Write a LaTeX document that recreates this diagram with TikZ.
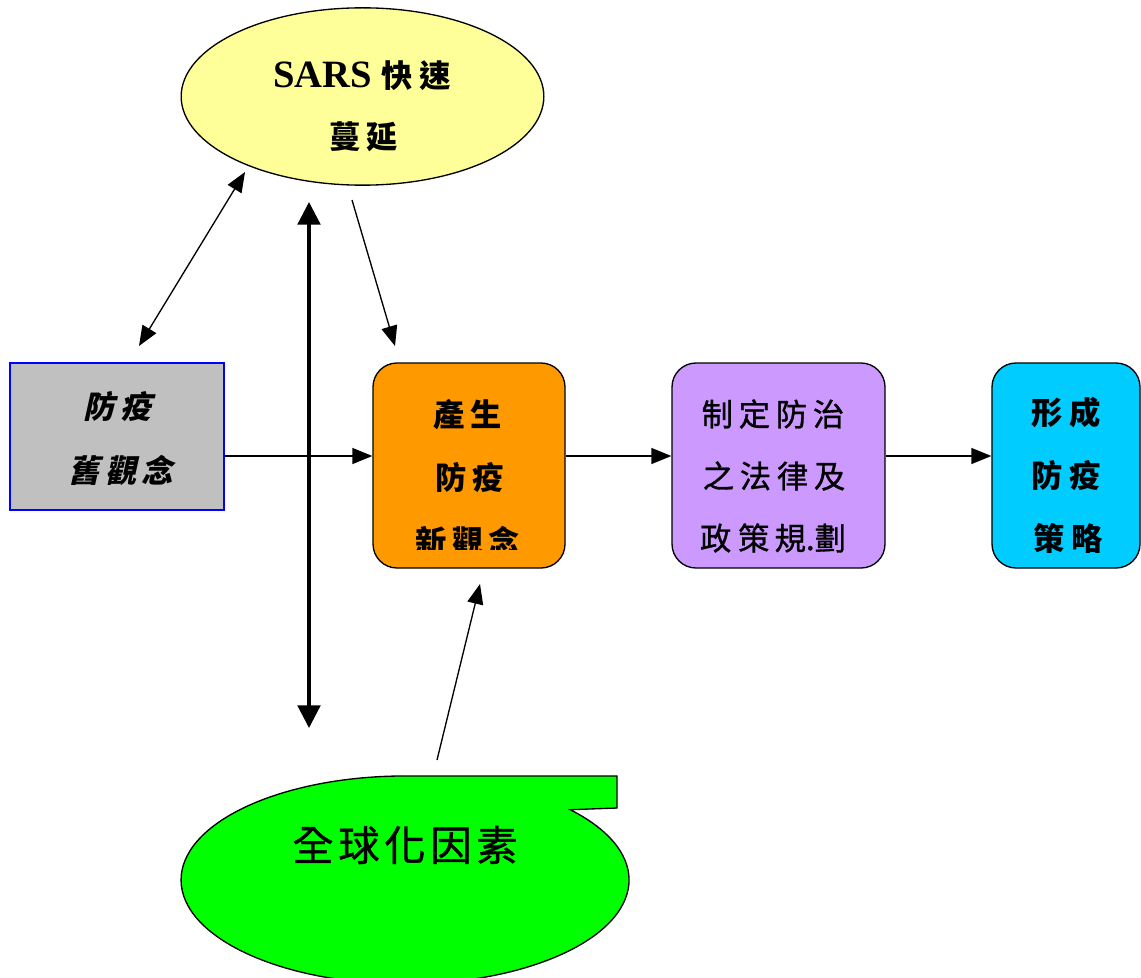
\documentclass[tikz,border=0pt]{standalone}
\usepackage{fontspec}
\setmainfont{Liberation Serif}
\newfontfamily\cjk{Noto Sans CJK TC}
\newfontfamily\cjkm[FakeBold=1]{Noto Sans CJK TC}
\newfontfamily\cjkit[FakeSlant=0.22]{Noto Sans CJK TC}
\usetikzlibrary{arrows.meta,shapes.geometric}
\definecolor{cyellow}{HTML}{FFFF99}
\definecolor{cgray}{HTML}{C0C0C0}
\definecolor{corange}{HTML}{FF9900}
\definecolor{cpurple}{HTML}{CC99FF}
\definecolor{ccyan}{HTML}{00CCFF}
\definecolor{cgreen}{HTML}{00FF00}
\newcommand\gp[1]{\hspace{#1pt}}
\tikzset{
  boxshape/.style={draw=black, line width=1pt, rounded corners=18pt, inner sep=0pt},
  txt/.style={inner sep=0pt, anchor=center},
  cjkb/.style={txt, font=\fontsize{23.5}{26}\selectfont\cjk\bfseries},
  cjkr/.style={txt, font=\fontsize{23.5}{26}\selectfont\cjkm},
  cjki/.style={txt, font=\fontsize{23.5}{26}\selectfont\cjkit\bfseries},
  thinarrow/.style={line width=1pt, -{Triangle[length=15pt,width=12pt]}},
  thinboth/.style={line width=1pt, {Triangle[length=15pt,width=12pt]}-{Triangle[length=15pt,width=12pt]}},
  thickboth/.style={line width=2.4pt, {Triangle[length=17pt,width=17pt]}-{Triangle[length=17pt,width=17pt]}},
}
\begin{document}
\begin{tikzpicture}[x=0.75pt,y=-0.75pt]
\useasboundingbox (0,0) rectangle (1141,977);

% top ellipse
\node[ellipse, draw=black, line width=1pt, fill=cyellow, minimum width=272pt, minimum height=133pt, inner sep=0pt] (sars) at (362.5,96.5) {};
\node[txt, font=\fontsize{29}{30}\selectfont\bfseries] (sarst1) at (362,76) {SARS\gp{7}{\fontsize{23.5}{26}\selectfont\cjk\bfseries 快\gp{5}速}};
\node[cjkb] (sarst2) at (364,137) {蔓\gp{4.5}延};

% gray box
\node[draw=blue, line width=1pt, fill=cgray, minimum width=160.5pt, minimum height=110.25pt, inner sep=0pt] (old) at (117,436.5) {};
\node[cjki] (oldt1) at (118,407) {防\gp{4.5}疫};
\node[cjki] (oldt2) at (121,470) {舊\gp{4}觀\gp{4}念};

% orange box
\node[boxshape, fill=corange, minimum width=144pt, minimum height=153.75pt] (new) at (469,465.5) {};
\node[cjkb] (newt1) at (468,415) {產\gp{4.5}生};
\node[cjkb] (newt2) at (470,478) {防\gp{4.5}疫};
\begin{scope}
\clip (380,520) rectangle (560,549);
\node[cjkb] (newt3) at (468,541) {新\gp{4}觀\gp{4}念};
\end{scope}

% purple box
\node[boxshape, fill=cpurple, minimum width=159.75pt, minimum height=153.75pt] (law) at (778.5,465.5) {};
\node[cjkr] (lawt1) at (773,414) {制\gp{4.3}定\gp{4.3}防\gp{4.3}治};
\node[cjkr] (lawt2) at (774,476) {之\gp{4.3}法\gp{4.3}律\gp{4.3}及};
\node[cjkr] (lawt3) at (773,538) {政\gp{5}策\gp{4}規.\gp{0}劃};

% cyan box
\node[boxshape, fill=ccyan, minimum width=111pt, minimum height=153.75pt] (strat) at (1066,465.5) {};
\node[cjkb] (stratt1) at (1066,413) {形\gp{4.5}成};
\node[cjkb] (stratt2) at (1066,476) {防\gp{4.5}疫};
\node[cjkb] (stratt3) at (1068,538) {策\gp{4.5}略};

% green callout
\draw[fill=cgreen, line width=1pt, line join=miter]
  (405,776) -- (617,776) -- (617,808) -- (570.2,809.7)
  arc[start angle=-42.5, end angle=270, x radius=224, y radius=104] -- cycle;
\node[txt, font=\fontsize{31}{34}\selectfont\cjkm] (glob) at (405,845) {全\gp{3.5}球\gp{3.5}化\gp{3.5}因\gp{3.5}素};

% free connector ends
\coordinate (ay) at (0,456);
\coordinate (d1a) at (245,172);
\coordinate (d1b) at (139,346);
\coordinate (v1) at (309,202);
\coordinate (v2) at (309,728);
\coordinate (s1) at (352,200);
\coordinate (s2) at (395,346);
\coordinate (g1) at (437,760);
\coordinate (g2) at (480,584);

% connectors
\draw[thinboth] (d1b) -- (d1a);
\draw[thickboth] (v2) -- (v1);
\draw[thinarrow] (s1) -- (s2);
\draw[thinarrow] (g1) -- (g2);
\draw[thinarrow] (old.east |- ay) -- (new.west |- ay);
\draw[thinarrow] (new.east |- ay) -- (law.west |- ay);
\draw[thinarrow] (law.east |- ay) -- (strat.west |- ay);
\end{tikzpicture}
\end{document}
